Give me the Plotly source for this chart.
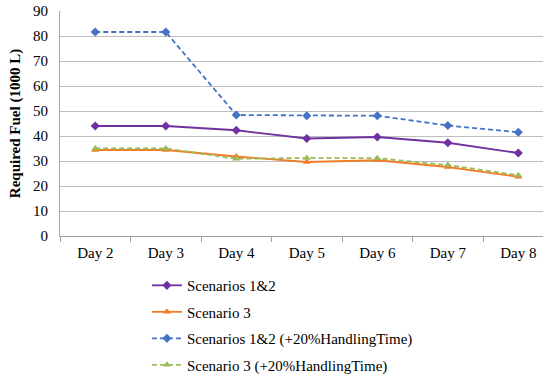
import plotly.graph_objects as go

days = ["Day 2", "Day 3", "Day 4", "Day 5", "Day 6", "Day 7", "Day 8"]
scen12 = [44.0, 44.0, 42.3, 39.0, 39.6, 37.3, 33.2]
scen3 = [34.4, 34.4, 31.8, 29.6, 30.3, 27.6, 23.7]
scen12_ht = [81.6, 81.6, 48.4, 48.1, 48.1, 44.2, 41.5]
scen3_ht = [35.0, 35.0, 30.9, 31.2, 31.1, 28.4, 24.3]

y_ticks = [0, 10, 20, 30, 40, 50, 60, 70, 80, 90]

FONT = "Times New Roman, serif"

fig = go.Figure()
series = [
    ("Scenarios 1&2", scen12, "#7030A0", "solid", "diamond"),
    ("Scenario 3", scen3, "#F07C28", "solid", "triangle-up"),
    ("Scenarios 1&2 (+20%HandlingTime)", scen12_ht, "#4472C4", "5px,3px", "diamond"),
    ("Scenario 3 (+20%HandlingTime)", scen3_ht, "#9BBB59", "5px,3px", "triangle-up"),
]
for i, (name, vals, color, dash, sym) in enumerate(series):
    fig.add_trace(go.Scatter(
        x=days, y=vals, name=name, mode="lines+markers",
        line=dict(color=color, width=1.8, dash=dash),
        marker=dict(symbol=sym, size=7, color=color),
        legendgroup=f"g{i}",
    ))

fig.update_layout(
    width=546, height=376,
    margin=dict(l=60, r=3, t=11, b=140, autoexpand=False),
    plot_bgcolor="white", paper_bgcolor="white",
    font=dict(family=FONT, size=15, color="black"),
    showlegend=True,
    legend=dict(
        x=0.18, y=-0.147, xanchor="left", yanchor="top",
        font=dict(family=FONT, size=15, color="black"),
        tracegroupgap=4, bgcolor="rgba(0,0,0,0)",
    ),
    xaxis=dict(
        range=[-0.5, 6.35], showgrid=False,
        showline=True, linecolor="#A0A0A0", linewidth=1,
        ticks="outside", tickson="boundaries", ticklen=5, tickcolor="#A0A0A0",
        tickfont=dict(family=FONT, size=15),
        ticklabelstandoff=3,
    ),
    yaxis=dict(
        range=[0, 90], tickvals=y_ticks,
        showgrid=True, gridcolor="#BFBFBF", gridwidth=1,
        showline=True, linecolor="#9BBB59", linewidth=1,
        zeroline=False, ticks="", ticklabelstandoff=8,
        tickfont=dict(family=FONT, size=15),
        title=dict(text="<b>Required Fuel (1000 L)</b>", font=dict(family=FONT, size=15), standoff=8),
    ),
)

fig.write_html("out.html")
